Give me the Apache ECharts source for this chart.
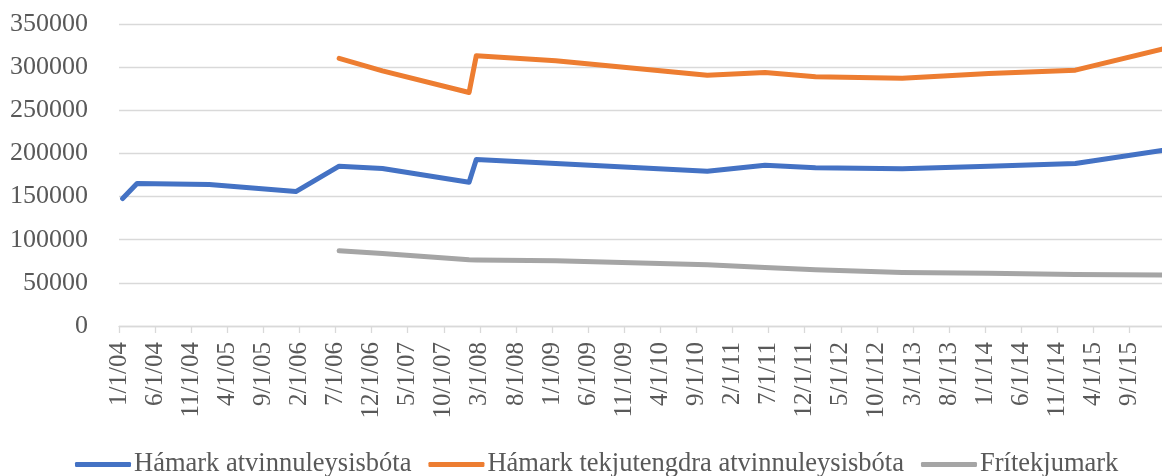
<!DOCTYPE html>
<html lang="is">

<head>
  <meta charset="UTF-8">
  <script type="text/javascript" src="https://cdn.jsdelivr.net/npm/echarts@6/dist/echarts.min.js"></script>
  <title>Atvinnuleysisbætur</title>
  <style>
    html,
    body {
      margin: 0;
      background: #fff;
    }

    #chart {
      width: 1162px;
      height: 476px;
    }
  </style>
</head>

<body>
  <div id="chart"></div>

  <script type="text/javascript">
    // tick labels on the date axis (every 5 months)
    var tickLabels = ['1/1/04', '6/1/04', '11/1/04', '4/1/05', '9/1/05', '2/1/06', '7/1/06', '12/1/06',
      '5/1/07', '10/1/07', '3/1/08', '8/1/08', '1/1/09', '6/1/09', '11/1/09', '4/1/10', '9/1/10',
      '2/1/11', '7/1/11', '12/1/11', '5/1/12', '10/1/12', '3/1/13', '8/1/13', '1/1/14', '6/1/14',
      '11/1/14', '4/1/15', '9/1/15'];

    var yTicks = [0, 50000, 100000, 150000, 200000, 250000, 300000, 350000];

    var seriesNames = ['Hámark atvinnuleysisbóta', 'Hámark tekjutengdra atvinnuleysisbóta', 'Frítekjumark'];

    // Hámark atvinnuleysisbóta
    var datesA = ['1/1/04', '3/1/04', '1/1/05', '1/1/06', '7/1/06', '1/1/07', '1/1/08', '2/1/08',
      '1/1/09', '10/1/10', '6/1/11', '1/1/12', '1/1/13', '1/1/14', '1/1/15', '1/1/16'];
    var valuesA = [147700, 165100, 164000, 155800, 185200, 182600, 166600, 193000,
      188400, 179400, 186400, 183300, 182200, 185000, 188400, 203500];

    // Hámark tekjutengdra atvinnuleysisbóta
    var datesB = ['7/1/06', '1/1/07', '1/1/08', '2/1/08', '1/1/09', '10/1/10', '6/1/11', '1/1/12',
      '1/1/13', '1/1/14', '1/1/15', '1/1/16'];
    var valuesB = [310100, 295700, 270600, 313100, 307300, 290700, 293800, 288800,
      287200, 292700, 296500, 320900];

    // Frítekjumark
    var datesC = ['7/1/06', '1/1/07', '1/1/08', '2/1/08', '1/1/09', '10/1/10', '6/1/11', '1/1/12',
      '1/1/13', '1/1/14', '1/1/15', '1/1/16'];
    var valuesC = [87200, 84100, 76700, 76500, 75600, 70900, 67800, 65100,
      62000, 61000, 59700, 59000];

    var colors = ['#4472C4', '#ED7D31', '#A5A5A5'];
    var textColor = '#595959';
    var gridColor = '#D9D9D9';
    var font = '"Liberation Serif", "Times New Roman", serif';

    // months since 1/1/04
    function toMonth(s) {
      var p = s.split('/');
      return (2000 + Number(p[2]) - 2004) * 12 + Number(p[0]) - 1;
    }

    // points sit in the middle of their month, as in the Excel date axis
    function pairs(dates, values) {
      return dates.map(function (d, i) {
        return [toMonth(d) + 0.5, values[i]];
      });
    }

    var tickPos = tickLabels.map(toMonth);
    var labelByMonth = {};
    tickLabels.forEach(function (t) {
      labelByMonth[toMonth(t)] = t;
    });

    var chart = echarts.init(document.getElementById('chart'), null, { renderer: 'canvas' });

    var allData = [pairs(datesA, valuesA), pairs(datesB, valuesB), pairs(datesC, valuesC)];

    var option = {
      animation: false,
      color: colors,
      grid: {
        left: 119,
        right: 0,
        top: 24,
        bottom: 150
      },
      legend: {
        left: 70,
        top: 446,
        icon: 'roundRect',
        itemWidth: 56,
        itemHeight: 5,
        itemGap: 17,
        textStyle: {
          fontFamily: font,
          fontSize: 26.5,
          color: textColor,
          padding: [0, 0, 0, -2]
        },
        data: seriesNames
      },
      xAxis: {
        type: 'value',
        min: 0,
        max: 144.5,
        splitLine: { show: false },
        axisLine: { lineStyle: { color: gridColor, width: 1.3 } },
        axisTick: {
          show: true,
          length: 7,
          customValues: tickPos,
          lineStyle: { color: gridColor, width: 1.3 }
        },
        axisLabel: {
          rotate: 90,
          margin: 16,
          padding: [6, 0, 0, 0],
          customValues: tickPos,
          fontFamily: font,
          fontSize: 25,
          color: textColor,
          formatter: function (v) {
            return labelByMonth[Math.round(v)] || '';
          }
        }
      },
      yAxis: {
        type: 'value',
        min: yTicks[0],
        max: yTicks[yTicks.length - 1],
        interval: yTicks[1] - yTicks[0],
        axisLine: { show: false },
        axisTick: { show: false },
        splitLine: { lineStyle: { color: gridColor, width: 1.3 } },
        axisLabel: {
          margin: 31,
          fontFamily: font,
          fontSize: 26,
          color: textColor,
          formatter: function (v) {
            return String(v);
          }
        }
      },
      series: seriesNames.map(function (name, i) {
        return {
          name: name,
          type: 'line',
          data: allData[i],
          showSymbol: false,
          symbol: 'none',
          lineStyle: { width: 5, cap: 'round', join: 'round' }
        };
      })
    };

    chart.setOption(option);
  </script>
</body>

</html>
